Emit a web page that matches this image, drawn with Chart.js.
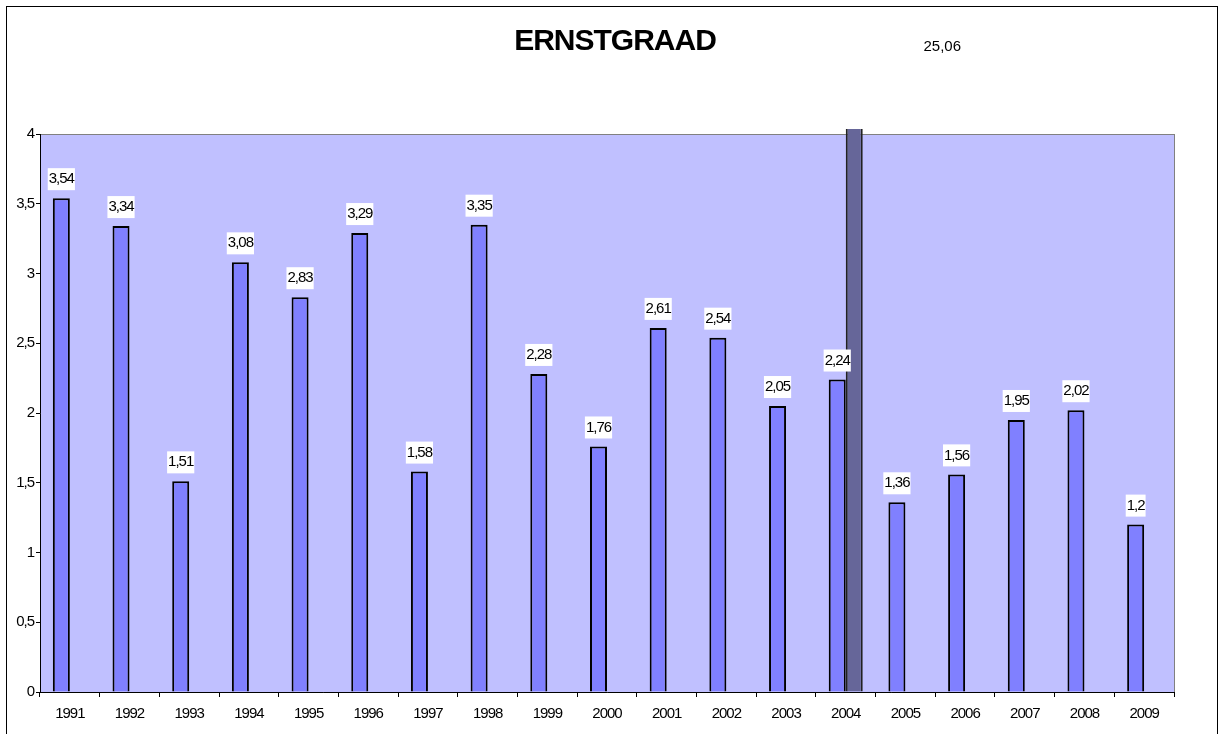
<!DOCTYPE html>
<html>
<head>
<meta charset="utf-8">
<script src="https://cdn.jsdelivr.net/npm/chart.js@4/dist/chart.umd.min.js"></script>
<style>
  html, body { margin: 0; padding: 0; background: #fff; }
  #wrap { width: 1220px; height: 734px; }
</style>
</head>
<body>
<div id="wrap"><canvas id="c" width="1220" height="734"></canvas></div>
<script>
const years = ['1991','1992','1993','1994','1995','1996','1997','1998','1999','2000',
               '2001','2002','2003','2004','2005','2006','2007','2008','2009'];
const ernstgraad = [3.54, 3.34, 1.51, 3.08, 2.83, 3.29, 1.58, 3.35, 2.28, 1.76,
                    2.61, 2.54, 2.05, 2.24, 1.36, 1.56, 1.95, 2.02, 1.2];
const uitschieter = [null, null, null, null, null, null, null, null, null, null,
                     null, null, null, 25.06, null, null, null, null, null];
const yTicks = [0, 0.5, 1, 1.5, 2, 2.5, 3, 3.5, 4];

const FONT = '"Liberation Sans", Arial, sans-serif';
const comma = v => String(v).replace('.', ',');

// excel-like frame, plot background, title
const excelLook = {
    id: 'excelLook',
    beforeDraw(chart) {
        const { ctx, chartArea: a } = chart;
        ctx.letterSpacing = '-1px';
        ctx.save();
        ctx.fillStyle = '#fff';
        ctx.fillRect(0, 0, chart.width, chart.height);
        ctx.strokeStyle = '#000';
        ctx.lineWidth = 1;
        ctx.strokeRect(6.5, 6.5, chart.width - 9, chart.height + 20);
        ctx.fillStyle = '#C0C0FF';
        ctx.fillRect(a.left, a.top, a.right - a.left, a.bottom - a.top);
        ctx.strokeStyle = '#808080';
        ctx.strokeRect(a.left + 0.5, a.top + 0.5, a.right - a.left, a.bottom - a.top);
        ctx.fillStyle = '#000';
        ctx.font = 'bold 30px ' + FONT;
        ctx.letterSpacing = '-1px';
        ctx.textAlign = 'center';
        ctx.textBaseline = 'middle';
        ctx.fillText('ERNSTGRAAD', chart.width / 2 + 5, 42);
        ctx.restore();
    },
    afterDatasetsDraw(chart) {
        const { ctx, chartArea: a } = chart;
        ctx.save();
        ctx.font = '15px ' + FONT;
        ctx.letterSpacing = '-1px';
        ctx.textAlign = 'center';
        ctx.textBaseline = 'middle';
        chart.getDatasetMeta(0).data.forEach((bar, i) => {
            const txt = comma(ernstgraad[i]);
            const w = ctx.measureText(txt).width + 2;
            const cy = bar.y - 19;
            ctx.fillStyle = '#fff';
            ctx.fillRect(bar.x - w / 2, cy - 11, w, 22);
            ctx.fillStyle = '#000';
            ctx.fillText(txt, bar.x, cy);
        });
        chart.getDatasetMeta(1).data.forEach((bar, i) => {
            if (uitschieter[i] == null) return;
            ctx.letterSpacing = '0px';
            ctx.fillStyle = '#000';
            ctx.fillText(comma(uitschieter[i]), bar.x + 88, a.top - 87);
        });
        ctx.restore();
    }
};

new Chart(document.getElementById('c'), {
    type: 'bar',
    data: {
        labels: years,
        datasets: [{
            label: 'Ernstgraad',
            data: ernstgraad,
            backgroundColor: '#8080FF',
            borderColor: '#000',
            borderWidth: 2,
            borderSkipped: 'bottom'
        }, {
            label: 'Uitschieter',
            data: uitschieter,
            backgroundColor: '#666699',
            borderColor: '#222',
            borderWidth: 2,
            borderSkipped: 'bottom',
            clip: { left: 0, top: 5, right: 0, bottom: 0 }
        }]
    },
    options: {
        responsive: false,
        animation: false,
        datasets: { bar: { categoryPercentage: 0.57, barPercentage: 1 } },
        layout: { padding: { top: 134, right: 46, bottom: 0, left: 0 } },
        plugins: {
            legend: { display: false },
            tooltip: { enabled: false }
        },
        scales: {
            x: {
                grid: { display: true, offset: true, drawOnChartArea: false, tickLength: 5, color: '#000' },
                border: { color: '#000' },
                ticks: { color: '#000', font: { family: FONT, size: 15 }, padding: 8, maxRotation: 0 },
                afterFit: s => { s.height = 42; }
            },
            y: {
                min: 0, max: 4,
                afterBuildTicks: s => { s.ticks = yTicks.map(v => ({ value: v })); },
                grid: { display: true, drawOnChartArea: false, tickLength: 4, color: '#000' },
                border: { color: '#000' },
                ticks: { color: '#000', font: { family: FONT, size: 15 }, padding: 2, callback: v => comma(v) },
                afterFit: s => { s.width = 40; }
            }
        }
    },
    plugins: [excelLook]
});
</script>
</body>
</html>
